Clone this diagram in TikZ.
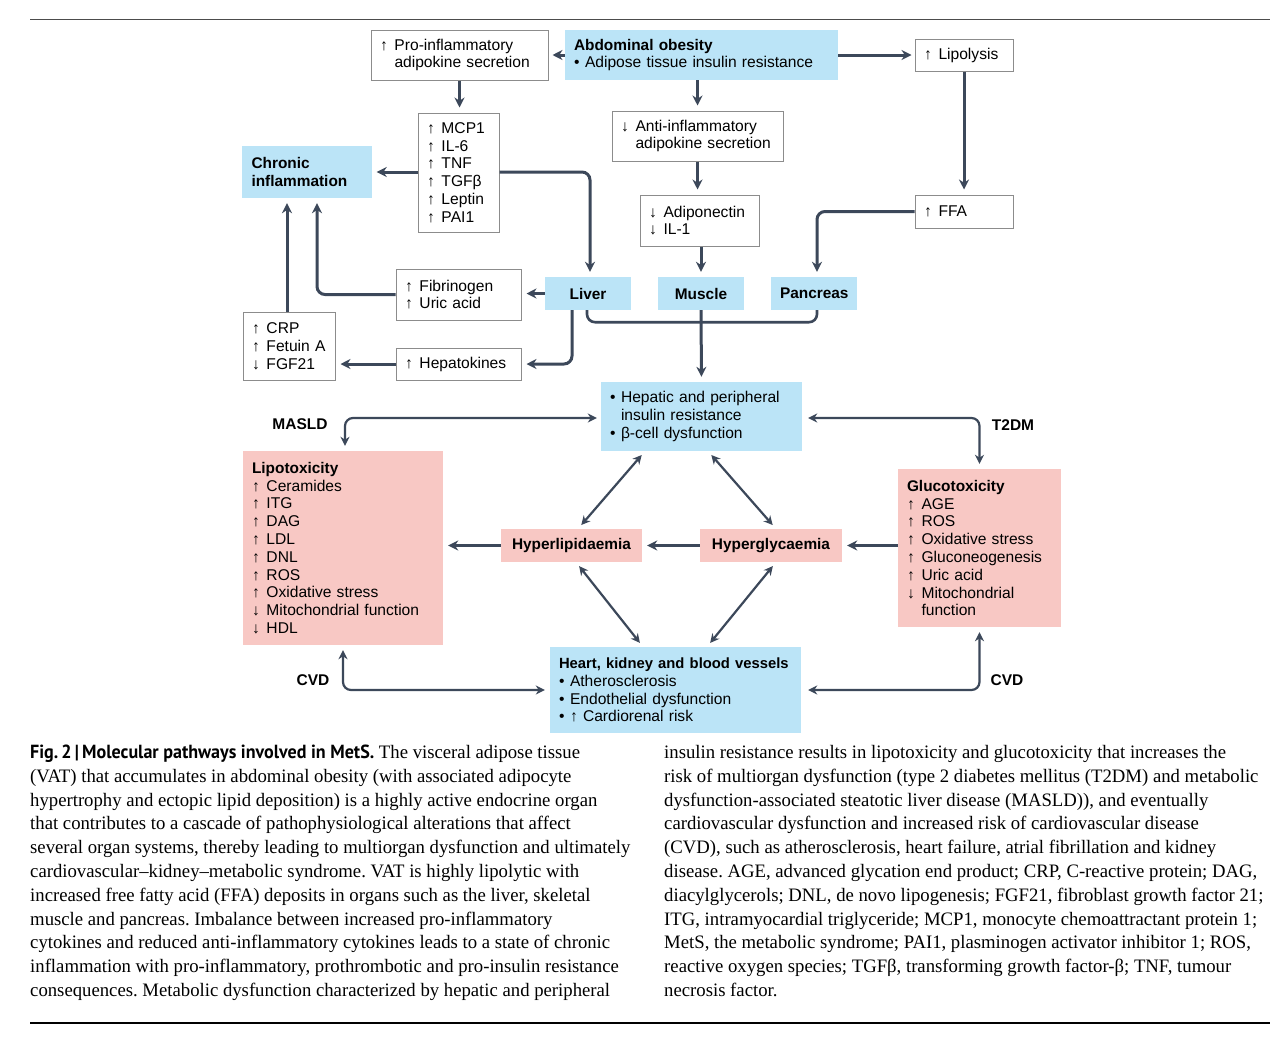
\documentclass[tikz,border=0pt]{standalone}
\usepackage{fontspec}
\setmainfont{Liberation Sans}
\newfontfamily\capfont[FakeStretch=0.985]{Liberation Serif}
\newfontfamily\capboldfont[FakeStretch=0.95]{PT Sans}
\usetikzlibrary{arrows.meta,calc}
\definecolor{boxblue}{RGB}{187,228,247}
\definecolor{boxpink}{RGB}{248,200,196}
\definecolor{bordgray}{RGB}{140,140,140}
\definecolor{linec}{RGB}{60,72,90}
\newcommand{\ua}{\makebox[14.5pt][l]{↑}}
\newcommand{\da}{\makebox[14.5pt][l]{↓}}
\newcommand{\ind}{\hspace*{14.5pt}}
\newcommand{\bu}{\makebox[11pt][l]{•}}
\newcommand{\bind}{\hspace*{11pt}}
\newcommand{\dfont}{\fontsize{15.6}{17.8}\selectfont}
\newcommand{\dbfont}{\fontsize{15.4}{17.8}\selectfont\bfseries}
\frenchspacing
\begin{document}
\begin{tikzpicture}[x=1pt,y=-1pt,
  wbox/.style={draw=bordgray, line width=1pt, fill=white, inner xsep=9pt, inner ysep=0pt, align=left, font=\dfont},
  bbox/.style={fill=boxblue, inner xsep=9pt, inner ysep=0pt, align=left, font=\dfont},
  pbox/.style={fill=boxpink, inner xsep=9pt, inner ysep=0pt, align=left, font=\dfont},
  arr/.style={draw=linec, line width=3pt, -{Stealth[length=10pt,width=10pt]}, shorten >=5pt, rounded corners=8pt},
  darr/.style={draw=linec, line width=2.2pt, {Stealth[length=9pt,width=9pt]}-{Stealth[length=9pt,width=9pt]}, shorten >=5pt, shorten <=5pt, rounded corners=8pt},
  lbl/.style={font=\fontsize{15.5}{18}\selectfont\bfseries, inner sep=0pt},
  captext/.style={font=\capfont\fontsize{19}{22}\selectfont\frenchspacing, inner sep=0pt, anchor=base west},
]
\useasboundingbox (0,0) rectangle (1287,1047);
\fill[white] (0,0) rectangle (1287,1047);
\draw[line width=1pt, black!70] (30,19) -- (1270,19);
\draw[line width=1.5pt, black] (30,1023) -- (1270,1023);

% nodes
\node[wbox, text width=159pt, minimum height=50pt] (proinf) at (459.5,55) {\ua Pro-inflammatory\\\ind adipokine secretion};
\node[bbox, text width=255pt, minimum height=50pt] (abd) at (701.5,55) {{\dbfont Abdominal obesity}\\\bu Adipose tissue insulin resistance};
\node[wbox, text width=80pt, minimum height=32pt] (lipol) at (964,55) {\ua Lipolysis};
\node[wbox, text width=153pt, minimum height=50pt] (anti) at (697.5,136) {\da Anti-inflammatory\\\ind adipokine secretion};
\node[wbox, text width=63pt, minimum height=119pt] (mcp) at (458.5,172.5) {\ua MCP1\\\ua IL-6\\\ua TNF\\\ua TGFβ\\\ua Leptin\\\ua PAI1};
\node[bbox, text width=110pt, inner xsep=10pt, minimum height=52pt] (chronic) at (306.5,172) {\dbfont Chronic\\inflammation};
\node[wbox, text width=101pt, minimum height=51pt] (adipo) at (699.5,220.5) {\da Adiponectin\\\da IL-1};
\node[wbox, text width=80pt, minimum height=33pt] (ffa) at (964,211.5) {\ua FFA};
\node[wbox, text width=107pt, minimum height=51pt] (fib) at (458.5,294.5) {\ua Fibrinogen\\\ua Uric acid};
\node[bbox, text width=68pt, minimum height=33pt, align=center, font=\dbfont] (liver) at (588,293.5) {Liver};
\node[bbox, text width=68pt, minimum height=33pt, align=center, font=\dbfont] (muscle) at (701,293.5) {Muscle};
\node[bbox, text width=68pt, minimum height=33pt, align=center, font=\dbfont] (panc) at (814,293.5) {Pancreas};
\node[wbox, text width=74pt, minimum height=68pt] (crp) at (289,346) {\ua CRP\\\ua Fetuin A\\\da FGF21};
\node[wbox, text width=107pt, minimum height=32pt] (hep) at (458.5,364) {\ua Hepatokines};
\node[bbox, text width=183pt, minimum height=69pt] (hepatic) at (701.5,416.5) {\bu Hepatic and peripheral\\\bind insulin resistance\\\bu β-cell dysfunction};
\node[pbox, text width=182pt, minimum height=194pt] (lipotox) at (343,548) {{\dbfont Lipotoxicity}\\\ua Ceramides\\\ua ITG\\\ua DAG\\\ua LDL\\\ua DNL\\\ua ROS\\\ua Oxidative stress\\\da Mitochondrial function\\\da HDL};
\node[pbox, text width=123pt, minimum height=33pt, align=center, font=\dbfont] (hyl) at (571.5,545.5) {Hyperlipidaemia};
\node[pbox, text width=124pt, minimum height=33pt, align=center, font=\dbfont] (hyg) at (771,545.5) {Hyperglycaemia};
\node[pbox, text width=145pt, minimum height=158pt] (gluco) at (979.5,548) {{\dbfont Glucotoxicity}\\\ua AGE\\\ua ROS\\\ua Oxidative stress\\\ua Gluconeogenesis\\\ua Uric acid\\\da Mitochondrial\\\ind function};
\node[bbox, text width=233pt, minimum height=86pt] (heart) at (675.5,690) {\mbox{\fontsize{14.8}{17.8}\selectfont\bfseries Heart, kidney and blood vessels}\\\bu Atherosclerosis\\\bu Endothelial dysfunction\\\bu ↑ Cardiorenal risk};

\node[lbl] (masld) at (300,424) {MASLD};
\node[lbl] (t2dm) at (1013,425) {T2DM};
\node[lbl] (cvdl) at (313,680) {CVD};
\node[lbl] (cvdr) at (1007,680) {CVD};

% connectors
\draw[arr, shorten >=4pt] (abd.west) -- (proinf.east);
\draw[arr, shorten >=3pt] (abd.east) -- (lipol.west);
\draw[arr] (proinf.south) -- (proinf.south |- mcp.north);
\draw[arr] (anti.north |- abd.south) -- (anti.north);
\draw[arr] (anti.south) -- (anti.south |- adipo.north);
\draw[arr] (muscle.north |- adipo.south) -- (muscle.north);
\draw[arr] (lipol.south) -- (ffa.north);
\draw[arr] (ffa.west) -| ([xshift=3pt]panc.north);
\draw[arr] (mcp.west |- chronic.east) -- (chronic.east);
\draw[arr] (mcp.east |- chronic.east) -| ([xshift=2pt]liver.north);
\draw[arr] (liver.west) -- (fib.east |- liver.west);
\draw[arr] (fib.west) -| ([xshift=10.5pt]chronic.south);
\draw[arr] ([xshift=-19.5pt]chronic.south |- crp.north) -- ([xshift=-19.5pt]chronic.south);
\draw[arr] ([xshift=-16pt]liver.south) |- (hep.east);
\draw[arr] (hep.west) -- (crp.east |- hep.west);
\draw[draw=linec, line width=2.6pt, rounded corners=8pt] ([xshift=-1pt]liver.south) -- ++(0,12) -| ([xshift=3pt]panc.south);
\draw[arr] (muscle.south) -- (hepatic.north);
\draw[darr, shorten <=4pt] ([yshift=-1.5pt]hepatic.west) -| ([xshift=2pt]lipotox.north);
\draw[darr, shorten <=6pt] ([yshift=-1.5pt]hepatic.east) -| (gluco.north);
\draw[darr] ([xshift=-56.5pt]hepatic.south) -- ([xshift=6.5pt]hyl.north);
\draw[darr] ([xshift=6.5pt]hepatic.south) -- ([xshift=5pt]hyg.north);
\draw[darr] ([xshift=4.5pt]hyl.south) -- ([xshift=-32.5pt]heart.north);
\draw[darr] ([xshift=5pt]hyg.south) -- ([xshift=31.5pt]heart.north);
\draw[arr] (hyl.west) -- (lipotox.east |- hyl.west);
\draw[arr] (hyg.west) -- (hyl.east);
\draw[arr] (gluco.west |- hyg.east) -- (hyg.east);
\draw[darr] (lipotox.south) |- (heart.west);
\draw[darr, shorten >=7pt] (gluco.south) |- (heart.east);

% caption
\node[captext] (c1) at (30,758.5) {{\capboldfont\bfseries Fig.\,2\,|\,Molecular pathways involved in MetS.} The visceral adipose tissue};
\node[captext] (c2) at (30,782.3) {(VAT) that accumulates in abdominal obesity (with associated adipocyte};
\node[captext] (c3) at (30,806.1) {hypertrophy and ectopic lipid deposition) is a highly active endocrine organ};
\node[captext] (c4) at (30,829.9) {that contributes to a cascade of pathophysiological alterations that affect};
\node[captext] (c5) at (30,853.7) {several organ systems, thereby leading to multiorgan dysfunction and ultimately};
\node[captext] (c6) at (30,877.5) {cardiovascular–kidney–metabolic syndrome. VAT is highly lipolytic with};
\node[captext] (c7) at (30,901.3) {increased free fatty acid (FFA) deposits in organs such as the liver, skeletal};
\node[captext] (c8) at (30,925.1) {muscle and pancreas. Imbalance between increased pro-inflammatory};
\node[captext] (c9) at (30,948.9) {cytokines and reduced anti-inflammatory cytokines leads to a state of chronic};
\node[captext] (c10) at (30,972.7) {inflammation with pro-inflammatory, prothrombotic and pro-insulin resistance};
\node[captext] (c11) at (30,996.5) {consequences. Metabolic dysfunction characterized by hepatic and peripheral};
\node[captext] (d1) at (664,758.5) {insulin resistance results in lipotoxicity and glucotoxicity that increases the};
\node[captext] (d2) at (664,782.3) {risk of multiorgan dysfunction (type 2 diabetes mellitus (T2DM) and metabolic};
\node[captext] (d3) at (664,806.1) {dysfunction-associated steatotic liver disease (MASLD)), and eventually};
\node[captext] (d4) at (664,829.9) {cardiovascular dysfunction and increased risk of cardiovascular disease};
\node[captext] (d5) at (664,853.7) {(CVD), such as atherosclerosis, heart failure, atrial fibrillation and kidney};
\node[captext] (d6) at (664,877.5) {disease. AGE, advanced glycation end product; CRP, C-reactive protein; DAG,};
\node[captext] (d7) at (664,901.3) {diacylglycerols; DNL, de novo lipogenesis; FGF21, fibroblast growth factor 21;};
\node[captext] (d8) at (664,925.1) {ITG, intramyocardial triglyceride; MCP1, monocyte chemoattractant protein 1;};
\node[captext] (d9) at (664,948.9) {MetS, the metabolic syndrome; PAI1, plasminogen activator inhibitor 1; ROS,};
\node[captext] (d10) at (664,972.7) {reactive oxygen species; TGFβ, transforming growth factor-β; TNF, tumour};
\node[captext] (d11) at (664,996.5) {necrosis factor.};
\end{tikzpicture}
\end{document}
